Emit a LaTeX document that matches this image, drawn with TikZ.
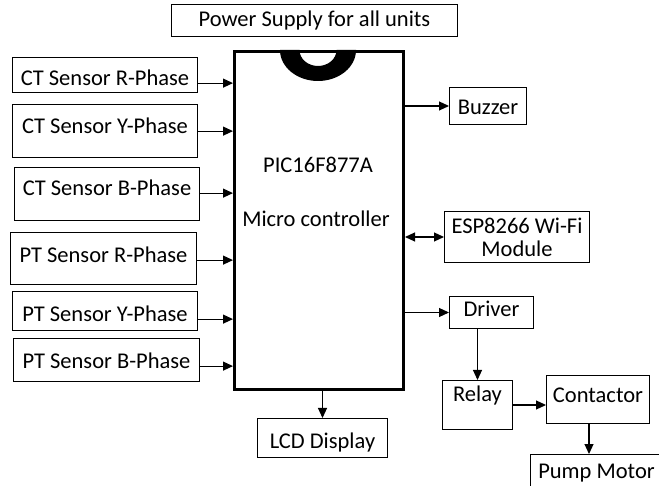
\documentclass[tikz,border=0pt]{standalone}
\usepackage{fontspec}
\setmainfont{Carlito}
\usetikzlibrary{arrows.meta,positioning,calc}

\begin{document}
\begin{tikzpicture}[
    x=1pt, y=-1pt,
    >={Triangle[length=10pt,width=9pt]},
    blk/.style={draw, line width=1pt, inner sep=0pt, anchor=north west,
                font=\fontsize{22.5}{26}\selectfont},
    link/.style={->, line width=1.1pt},
]
\clip (0,0) rectangle (659,486);

% Power supply
\node[blk, minimum width=286, text height=22, text depth=10] (psu) at (171,4) {Power Supply for all units};

% Microcontroller with notch
\node[draw, line width=3pt, minimum width=169, minimum height=338, anchor=north west, inner sep=0pt] (uc) at (233,50) {};
\fill (280,50) arc[start angle=180, end angle=0, x radius=38, y radius=31]
      -- (336.5,50) arc[start angle=0, end angle=180, x radius=18.5, y radius=16] -- cycle;
\node[font=\fontsize{22.5}{26}\selectfont, anchor=base] (ucname) at (318,173) {PIC16F877A};
\node[font=\fontsize{22.5}{26}\selectfont, anchor=base] (uctype) at (316,227) {Micro controller};

% Sensor inputs
\node[blk, minimum width=185, text height=28, text depth=7]  (ctr) at (12,57)  {CT Sensor R-Phase};
\node[blk, minimum width=185, text height=29, text depth=24] (cty) at (12,104) {CT Sensor Y-Phase};
\node[blk, minimum width=185, text height=28, text depth=25] (ctb) at (14,167) {CT Sensor B-Phase};
\node[blk, minimum width=186, text height=30, text depth=22] (ptr) at (10,232) {PT Sensor R-Phase};
\node[blk, minimum width=185, text height=30, text depth=9]  (pty) at (12,291) {PT Sensor Y-Phase};
\node[blk, minimum width=186, text height=30, text depth=13] (ptb) at (13,338) {PT Sensor B-Phase};

\foreach \s in {ctr,cty,ctb,ptr,pty,ptb}
    \draw[link] (\s.mid east) -- (\s.mid east -| uc.west);

% Outputs
\node[blk, minimum width=77, text height=27, text depth=10] (buz) at (449,87) {Buzzer};
\node[blk, minimum width=145, minimum height=51, align=center,
      font=\fontsize{22.5}{23}\selectfont] (esp) at (444,211) {ESP8266 Wi-Fi\\Module};
\node[blk, minimum width=84, text height=20, text depth=12]  (drv) at (449,296) {Driver};
\node[blk, minimum width=70, text height=21, text depth=28]  (rel) at (442,380) {Relay};
\node[blk, minimum width=103, text height=27, text depth=21] (con) at (546,375) {Contactor};
\node[blk, minimum width=132, text height=24, text depth=20] (pmp) at (530,454) {Pump Motor};
\node[blk, minimum width=130, text height=30, text depth=9]  (lcd) at (257,418) {LCD Display};

\draw[link] (uc.east |- buz.west) -- (buz.west);
\draw[<->, line width=1.1pt] (uc.east |- esp.west) -- (esp.west);
\draw[link] (uc.east |- drv.west) -- (drv.west);
\draw[link] (drv.south -| rel.north) -- (rel.north);
\draw[link] (rel.east) -- (rel.east -| con.west);
\draw[link] ([xshift=-9pt]con.south) -- ([xshift=-9pt]con.south |- pmp.north);
\draw[link] (uc.south -| lcd.north) -- (lcd.north);

\end{tikzpicture}
\end{document}
